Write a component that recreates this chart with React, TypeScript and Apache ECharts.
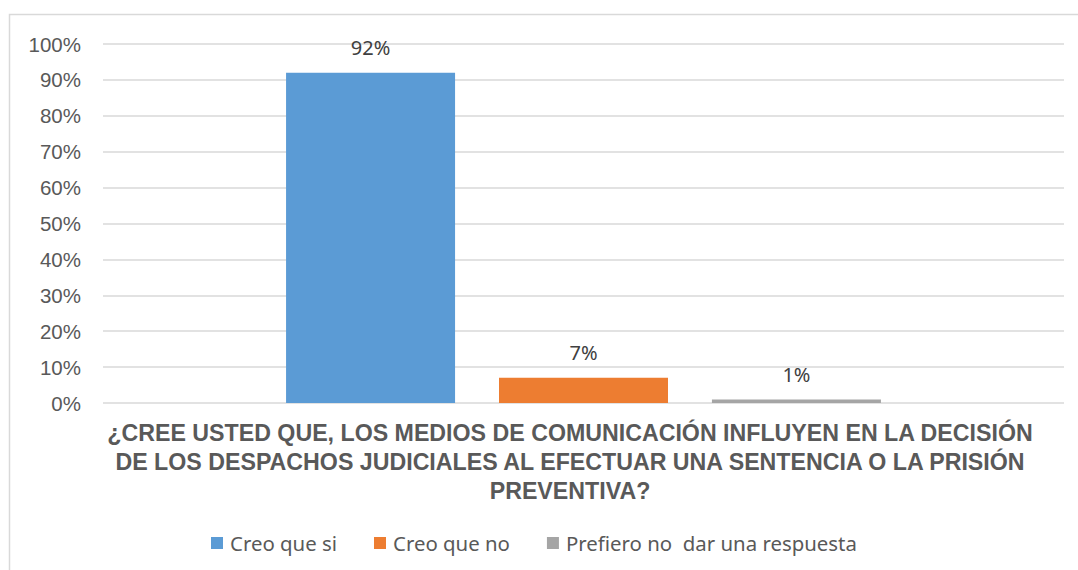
import React, { useEffect, useRef } from "react";
import * as echarts from "echarts";

const categories = ["Q"];
const seriesNames = ["Creo que si", "Creo que no", "Prefiero no  dar una respuesta"];
const seriesValues = [92, 7, 1];
const seriesColors = ["#5B9BD5", "#ED7D31", "#A5A5A5"];
const yTicks = [0, 10, 20, 30, 40, 50, 60, 70, 80, 90, 100];
const axisTitle =
  "¿CREE USTED QUE, LOS MEDIOS DE COMUNICACIÓN INFLUYEN EN LA DECISIÓN\nDE LOS DESPACHOS JUDICIALES AL EFECTUAR UNA SENTENCIA O LA PRISIÓN\nPREVENTIVA?";

export default function App() {
  const ref = useRef<HTMLDivElement>(null);
  useEffect(() => {
    if (!ref.current) return;
    const chart = echarts.init(ref.current, undefined, { renderer: "svg" });
    const labelFont = "'Noto Sans', 'Liberation Sans', sans-serif";
    chart.setOption({
      animation: false,
      backgroundColor: "#ffffff",
      grid: { left: 103, right: 14, top: 44, bottom: 167, containLabel: false },
      title: {
        text: axisTitle,
        left: 565,
        top: 413,
        textAlign: "center",
        textStyle: {
          fontFamily: "'Liberation Sans', Arial, sans-serif",
          fontWeight: "bold",
          fontSize: 23.2,
          color: "#595959",
          lineHeight: 29,
        },
      },
      legend: {
        bottom: 12,
        left: 206,
        itemWidth: 12,
        itemHeight: 12,
        itemGap: 37,
        icon: "rect",
        textStyle: { fontFamily: labelFont, fontSize: 20.4, color: "#595959", padding: [0, 0, 0, 2] },
        data: seriesNames,
      },
      xAxis: {
        type: "category",
        data: categories,
        axisLine: { show: false },
        axisTick: { show: false },
        axisLabel: { show: false },
      },
      yAxis: {
        type: "value",
        min: yTicks[0],
        max: yTicks[yTicks.length - 1],
        interval: 10,
        axisLine: { show: false },
        axisTick: { show: false },
        axisLabel: {
          formatter: "{value}%",
          fontFamily: "'Liberation Sans', Arial, sans-serif",
          fontSize: 20.5,
          color: "#595959",
          margin: 22,
        },
        splitLine: { lineStyle: { color: "#D9D9D9", width: 1.5 } },
      },
      graphic: [
        {
          type: "rect",
          shape: { x: 9.5, y: 14.5, width: 1100, height: 700 },
          style: { fill: "none", stroke: "#D9D9D9", lineWidth: 1.5 },
          silent: true,
          z: -1,
        },
      ],
      series: seriesNames.map((name, i) => ({
        name,
        type: "bar",
        barWidth: 169,
        barGap: "26%",
        itemStyle: { color: seriesColors[i] },
        label: {
          show: true,
          position: "top",
          distance: 15,
          formatter: "{c}%",
          fontFamily: labelFont,
          fontSize: 20,
          color: "#404040",
        },
        data: [seriesValues[i]],
      })),
    });
    return () => chart.dispose();
  }, []);
  return (
    <div
      ref={ref}
      style={{ position: "fixed", left: 0, top: 0, width: 1078, height: 570 }}
    />
  );
}
